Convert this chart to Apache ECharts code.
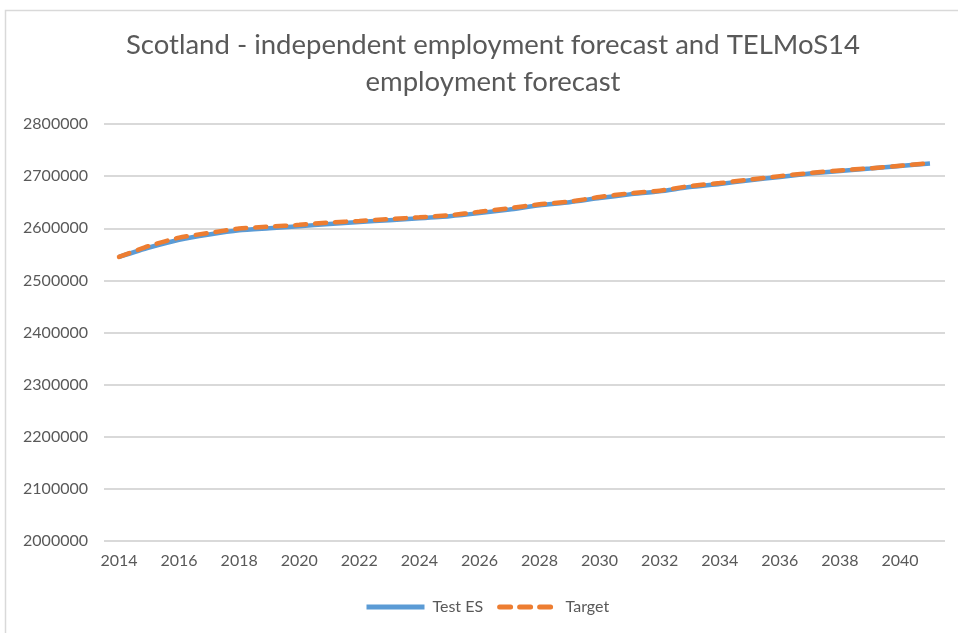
<!DOCTYPE html>
<html><head><meta charset="utf-8">
<script src="https://cdn.jsdelivr.net/npm/echarts@6/dist/echarts.min.js"></script>
<style>html,body{margin:0;padding:0;background:#fff}#c{width:958px;height:633px}</style>
</head><body><div id="c"></div>
<script>
const years = ['2014','2015','2016','2017','2018','2019','2020','2021','2022','2023','2024','2025','2026','2027','2028','2029','2030','2031','2032','2033','2034','2035','2036','2037','2038','2039','2040','2041'];
const testES = [2545000,2563000,2578000,2588000,2596000,2600000,2604000,2608000,2612000,2615500,2619000,2623000,2629000,2636000,2644000,2650000,2658000,2665000,2671000,2679000,2685000,2692000,2698500,2705000,2710000,2714500,2719500,2724000];
const target = [2545000,2566000,2582000,2591000,2599500,2603000,2606500,2611000,2614000,2617500,2621000,2625000,2631500,2638500,2646000,2651000,2660000,2667000,2672000,2681000,2686600,2693500,2700000,2706000,2711000,2715000,2720000,2725000];
const yMin = 2000000, yMax = 2800000, yStep = 100000;
const chart = echarts.init(document.getElementById('c'));
const txt = '#595959', font = 'Lato';
chart.setOption({
  animation: false,
  textStyle: {fontFamily: font},
  graphic: [{type:'rect', left:3, top:8, shape:{width:970, height:640}, style:{fill:'none', stroke:'#d9d9d9', lineWidth:1.5}, silent:true}],
  title: {
    text: 'Scotland - independent employment forecast and TELMoS14\nemployment forecast',
    left: 488, textAlign: 'center', top: 22,
    textStyle: {fontFamily: font, fontSize: 27.5, fontWeight: 'normal', color: txt, lineHeight: 37}
  },
  grid: {left:104, right:13, top:124, bottom:92, containLabel:false},
  xAxis: {
    type:'category', data: years, boundaryGap: true,
    axisLine:{show:false}, axisTick:{show:false},
    axisLabel:{interval:1, color:txt, fontSize:16, fontFamily:font, margin:12}
  },
  yAxis: {
    type:'value', min:yMin, max:yMax, interval:yStep,
    axisLine:{show:false}, axisTick:{show:false},
    axisLabel:{color:txt, fontSize:16, fontFamily:font, margin:16, formatter: v => String(v)},
    splitLine:{lineStyle:{color:'#d9d9d9', width:2}}
  },
  legend: {
    bottom: 13, left: 359, itemWidth: 58, itemHeight: 12, itemGap: 14,
    textStyle:{color:txt, fontSize:16, fontFamily:font, padding:[0,0,0,3]},
    itemStyle:{opacity:0},
    lineStyle:{width:5},
    data:['Test ES','Target']
  },
  series: [
    {name:'Test ES', type:'line', data:testES, symbol:'none', smooth:0.2,
     lineStyle:{color:'#5b9bd5', width:4.5}, itemStyle:{color:'#5b9bd5'}},
    {name:'Target', type:'line', data:target, symbol:'none', smooth:0.2,
     lineStyle:{color:'#ed7d31', width:4.5, type:[11,9], cap:'round'}, itemStyle:{color:'#ed7d31'}}
  ]
});
</script></body></html>
